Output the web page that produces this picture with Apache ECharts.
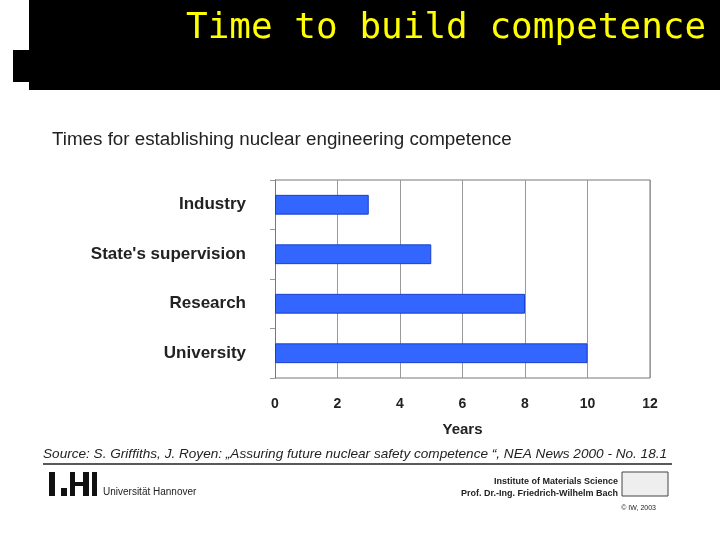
<!DOCTYPE html>
<html><head><meta charset="utf-8">
<script src="https://cdn.jsdelivr.net/npm/echarts@6/dist/echarts.min.js"></script>
<style>html,body{margin:0;padding:0;background:#fff}#c{width:720px;height:540px}</style>
</head><body><div id="c"></div>
<script>
const categories = ["Industry", "State's supervision", "Research", "University"];
const years = [3, 5, 8, 10];
const xTicks = [0, 2, 4, 6, 8, 10, 12];

const chart = echarts.init(document.getElementById('c'));
chart.setOption({
  backgroundColor: '#fff',
  animation: false,
  grid: { left: 275, right: 70, top: 180, bottom: 162 },
  xAxis: {
    type: 'value', min: 0, max: 12, interval: 2,
    name: 'Years', nameLocation: 'middle', nameGap: 44,
    nameTextStyle: { fontFamily: 'Liberation Sans', fontWeight: 'bold', fontSize: 15, color: '#222' },
    axisLabel: { fontFamily: 'Liberation Sans', fontWeight: 'bold', fontSize: 14, color: '#222', margin: 19,
      formatter: v => xTicks.includes(v) ? String(v) : '' },
    axisLine: { show: false }, axisTick: { show: false },
    splitLine: { lineStyle: { color: '#999', width: 1 } }
  },
  yAxis: {
    type: 'category', data: categories, inverse: true,
    axisLabel: { fontFamily: 'Liberation Sans', fontWeight: 'bold', fontSize: 17, color: '#222', margin: 29 },
    axisLine: { lineStyle: { color: '#777' } },
    axisTick: { show: true, length: 5, lineStyle: { color: '#999' } }
  },
  series: [{
    type: 'bar', data: years, barWidth: '40%',
    itemStyle: { color: '#3366ff', borderColor: '#1a3fcc', borderWidth: 1 }
  }],
  graphic: [
    { type: 'rect', shape: { x: 29, y: 0, width: 691, height: 90 }, style: { fill: '#000' } },
    { type: 'rect', shape: { x: 13, y: 50, width: 16, height: 32 }, style: { fill: '#000' } },
    { type: 'text', left: 186, top: 11, style: { text: 'Time to build competence', fill: '#ffff00', font: '36px "DejaVu Sans Mono"' } },
    { type: 'line', shape: { x1: 650, y1: 180, x2: 650, y2: 378 }, style: { stroke: '#777', lineWidth: 1 } },
    { type: 'line', shape: { x1: 275, y1: 180, x2: 650, y2: 180 }, style: { stroke: '#777', lineWidth: 1 } },
    { type: 'line', shape: { x1: 275, y1: 378, x2: 650, y2: 378 }, style: { stroke: '#777', lineWidth: 1 } },
    { type: 'text', left: 52, top: 130, style: { text: 'Times for establishing nuclear engineering competence', fill: '#222', font: '18.8px "Liberation Sans"' } },
    { type: 'text', left: 43, top: 447, style: { text: 'Source: S. Griffiths, J. Royen: \u201eAssuring future nuclear safety competence \u201c, NEA News 2000 - No. 18.1', fill: '#222', font: 'italic 13.6px "Liberation Sans"' } },
    { type: 'line', shape: { x1: 43, y1: 464, x2: 672, y2: 464 }, style: { stroke: '#222', lineWidth: 1.5 } },
    { type: 'rect', shape: { x: 49, y: 472, width: 6, height: 24 }, style: { fill: '#111' } },
    { type: 'rect', shape: { x: 61, y: 488, width: 6, height: 8 }, style: { fill: '#111' } },
    { type: 'rect', shape: { x: 70, y: 472, width: 5, height: 24 }, style: { fill: '#111' } },
    { type: 'rect', shape: { x: 75, y: 482, width: 8, height: 4 }, style: { fill: '#111' } },
    { type: 'rect', shape: { x: 83, y: 472, width: 6, height: 24 }, style: { fill: '#111' } },
    { type: 'rect', shape: { x: 92, y: 472, width: 5, height: 24 }, style: { fill: '#111' } },
    { type: 'text', left: 103, top: 487, style: { text: 'Universit\u00e4t Hannover', fill: '#222', font: '10px "Liberation Sans"' } },
    { type: 'text', right: 102, top: 477, style: { text: 'Institute of Materials Science', fill: '#222', font: 'bold 9px "Liberation Sans"', align: 'right' } },
    { type: 'text', right: 102, top: 489, style: { text: 'Prof. Dr.-Ing. Friedrich-Wilhelm Bach', fill: '#222', font: 'bold 9px "Liberation Sans"', align: 'right' } },
    { type: 'rect', shape: { x: 622, y: 472, width: 46, height: 24 }, style: { fill: '#eee', stroke: '#444', lineWidth: 1 } },
    { type: 'text', right: 64, top: 505, style: { text: '\u00a9 IW, 2003', fill: '#222', font: '7px "Liberation Sans"', align: 'right' } }
  ]
});
</script></body></html>
